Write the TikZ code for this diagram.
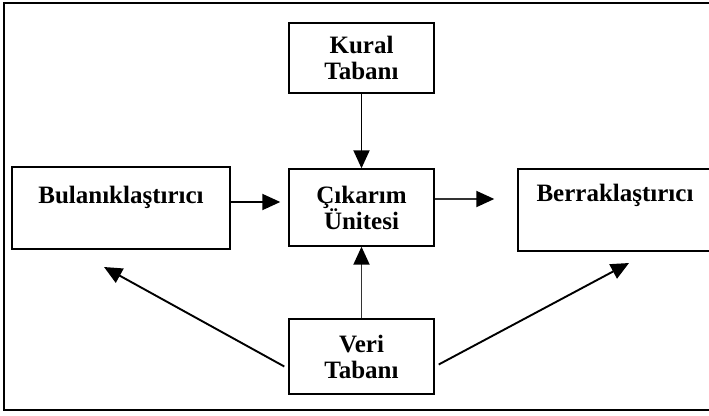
\documentclass[tikz,border=0pt]{standalone}
\usepackage{fontspec}
\setmainfont{Liberation Serif}
\usetikzlibrary{arrows.meta}
\tikzstyle{blok}=[draw=black, line width=1.4pt, inner sep=0pt, align=center, font=\bfseries\fontsize{25}{26}\selectfont]
\tikzstyle{ok}=[line width=1.9pt, -{Triangle[length=18pt,width=16pt]}]
\tikzstyle{gok}=[line width=1.9pt, draw=black!80, -{Triangle[length=18pt,width=16pt,black]}]

\begin{document}
\begin{tikzpicture}[x=1pt,y=-1pt]
    \clip (0,0) rectangle (709,415);
    \draw[line width=2pt] (4,3) rectangle (716,410);
    \node[blok, minimum width=145pt, minimum height=70pt] (kural) at (361.5,58) {Kural\\Tabanı};
    \node[blok, minimum width=145pt, minimum height=77pt] (cikarim) at (361.5,207.5) {Çıkarım\\Ünitesi};
    \node[blok, minimum width=145pt, minimum height=75pt] (veri) at (361.5,356.5) {Veri\\Tabanı};
    \node[blok, minimum width=218pt, minimum height=82pt] (bul) at (121,208) {Bulanıklaştırıcı\\[-7pt]\strut};
    \node[blok, minimum width=194pt, minimum height=82pt] (ber) at (615,210) {Berraklaştırıcı\\\strut};
    \coordinate (bucu) at (104,267);
    \coordinate (beru) at (629,263);

    \draw[ok] (kural) -- (cikarim);
    \draw[gok] (veri) -- (cikarim);
    \draw[ok, shorten >=8pt] ([yshift=6pt]bul.east) -- ([yshift=6pt]bul.east -| cikarim.west);
    \draw[gok, shorten >=23pt] ([yshift=8.5pt]cikarim.east) -- ([yshift=8.5pt]cikarim.east -| ber.west);
    \draw[ok] ([xshift=-4pt,yshift=-10pt]veri.west) -- (bucu);
    \draw[ok] ([xshift=4pt,yshift=-8pt]veri.east) -- (beru);
\end{tikzpicture}
\end{document}
